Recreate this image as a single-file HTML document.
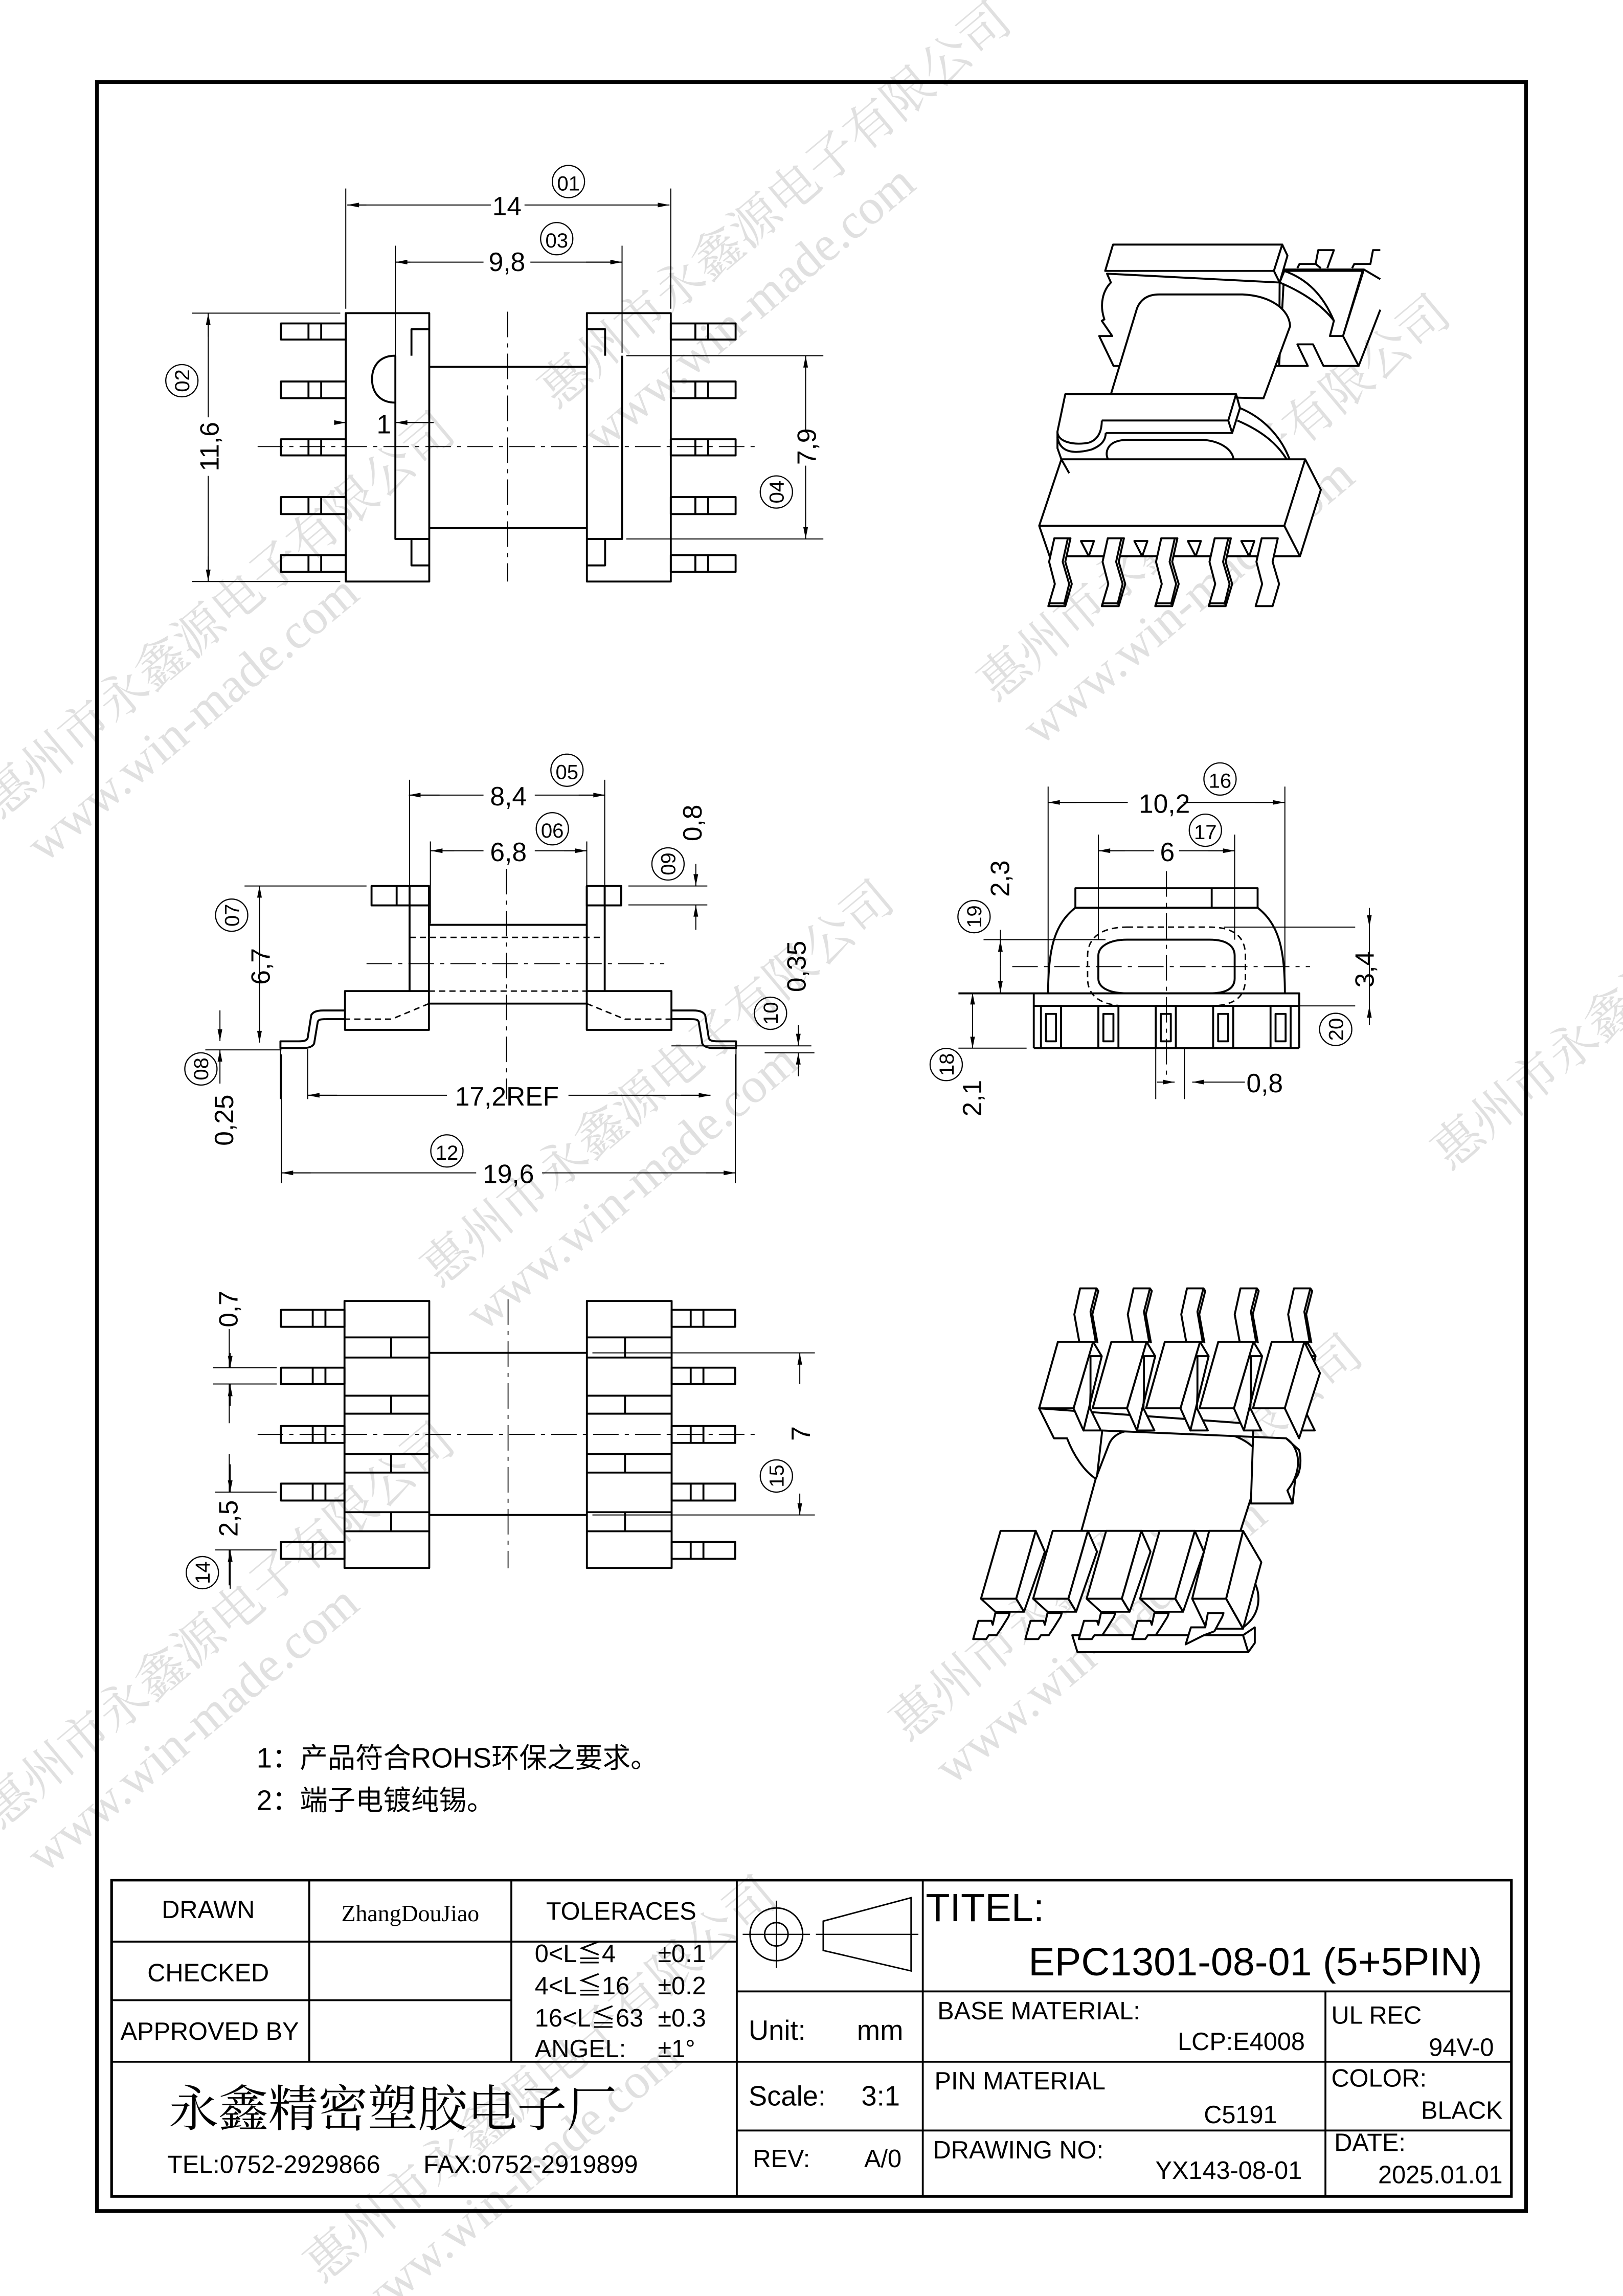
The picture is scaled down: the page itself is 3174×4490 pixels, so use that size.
<!DOCTYPE html>
<html><head><meta charset="utf-8"><style>
html,body{margin:0;padding:0;background:#fff}
svg{display:block}
text{font-family:"Liberation Sans","Noto Sans CJK SC",sans-serif;fill:#000}
.l{fill:none;stroke:#000;stroke-width:3.8;vector-effect:non-scaling-stroke;stroke-linejoin:round}
.t{fill:none;stroke:#000;stroke-width:2;vector-effect:non-scaling-stroke}
.c{fill:none;stroke:#000;stroke-width:1.8;vector-effect:non-scaling-stroke;stroke-dasharray:50 12 8 12}
.d{fill:none;stroke:#000;stroke-width:2.8;vector-effect:non-scaling-stroke;stroke-dasharray:12 8}
.w{fill:#fff;stroke:#000;stroke-width:3.8;vector-effect:non-scaling-stroke;stroke-linejoin:round}
.wm text{font-family:"Liberation Serif","Noto Serif CJK SC",serif;fill:#e0e0e0;font-size:34px}
.ci{fill:none;stroke:#000;stroke-width:0.8}
</style></head><body>
<svg width="3174" height="4490" viewBox="0 0 1108 1568" xmlns="http://www.w3.org/2000/svg">
<defs>
<marker id="a" viewBox="0 0 10 4" refX="10" refY="2" markerWidth="9" markerHeight="3.2" markerUnits="userSpaceOnUse" orient="auto-start-reverse"><path d="M0,0 L10,2 L0,4 Z" fill="#000"/></marker>
</defs>
<rect width="1108" height="1568" fill="#fff"/>
<g class="wm">
<text transform="translate(0,560) rotate(-40)">惠州市永鑫源电子有限公司</text>
<text transform="translate(30,590) rotate(-40)" font-size="28">www.win-made.com</text>
<text transform="translate(380,280) rotate(-40)">惠州市永鑫源电子有限公司</text>
<text transform="translate(410,310) rotate(-40)" font-size="28">www.win-made.com</text>
<text transform="translate(680,480) rotate(-40)">惠州市永鑫源电子有限公司</text>
<text transform="translate(710,510) rotate(-40)" font-size="28">www.win-made.com</text>
<text transform="translate(300,880) rotate(-40)">惠州市永鑫源电子有限公司</text>
<text transform="translate(330,910) rotate(-40)" font-size="28">www.win-made.com</text>
<text transform="translate(620,1190) rotate(-40)">惠州市永鑫源电子有限公司</text>
<text transform="translate(650,1220) rotate(-40)" font-size="28">www.win-made.com</text>
<text transform="translate(0,1250) rotate(-40)">惠州市永鑫源电子有限公司</text>
<text transform="translate(30,1280) rotate(-40)" font-size="28">www.win-made.com</text>
<text transform="translate(990,800) rotate(-40)">惠州市永鑫源电子有限公司</text>
<text transform="translate(220,1560) rotate(-40)">惠州市永鑫源电子有限公司</text>
<text transform="translate(250,1590) rotate(-40)" font-size="28">www.win-made.com</text>
</g>
<rect x="66" y="56" width="976" height="1454" fill="none" stroke="#000" stroke-width="2.6"/>

<g transform="translate(122.2,104.7) scale(0.2894,0.2003)">
<rect class="l" x="393" y="545" width="197" height="915"/>
<path class="l" d="M510,690 V1315 H590 M548,690 V600 H590 M548,1315 V1405 H590"/>
<path class="l" d="M510,690 C470,690 455,730 455,770 C455,810 470,850 510,850"/>
<rect class="l" x="962" y="545" width="198" height="915"/>
<path class="l" d="M1045,690 V1315 H962 M1005,690 V600 H962 M1005,1315 V1405 H962"/>
<path class="l" d="M590,728 H962 M590,1278 H962"/>
<g id="pl">
<rect class="l" x="240" y="580" width="153" height="55"/><path class="l" d="M305,580V635M335,580V635"/>
<rect class="l" x="240" y="778" width="153" height="57"/><path class="l" d="M305,778V835M335,778V835"/>
<rect class="l" x="240" y="975" width="153" height="55"/><path class="l" d="M305,975V1030M335,975V1030"/>
<rect class="l" x="240" y="1172" width="153" height="58"/><path class="l" d="M305,1172V1230M335,1172V1230"/>
<rect class="l" x="240" y="1370" width="153" height="57"/><path class="l" d="M305,1370V1427M335,1370V1427"/>
</g>
<use href="#pl" transform="translate(1553,0) scale(-1,1)"/>
<path class="c" d="M185,1000 H1365 M775,540 V1460"/>
<path class="t" d="M393,120 V530 M1160,120 V530 M510,315 V970 M1045,315 V680 M30,545 H380 M30,1460 H380 M1055,690 H1520 M1055,1315 H1520"/>
</g>
<g>
<path class="t" d="M237,140 H335 M358,140 H457" marker-end="url(#a)"/>
<path class="t" d="M237,140 H250" marker-start="url(#a)"/>
<path class="t" d="M270,179 H330 M362,179 H424.6" />
<path class="t" d="M270,179 H280" marker-start="url(#a)"/><path class="t" d="M400,179 H424.6" marker-end="url(#a)"/>
<path class="t" d="M142,214 V285 M142,325 V397"/>
<path class="t" d="M142,230 V214" marker-end="url(#a)"/><path class="t" d="M142,380 V397" marker-end="url(#a)"/>
<path class="t" d="M550,243 V295 M550,318 V368"/>
<path class="t" d="M550,260 V243" marker-end="url(#a)"/><path class="t" d="M550,350 V368" marker-end="url(#a)"/>
<path class="t" d="M228,288.6 H236" marker-end="url(#a)"/><path class="t" d="M296,288.6 H270" marker-end="url(#a)"/>
<text x="346" y="147" font-size="18" text-anchor="middle">14</text>
<text x="346" y="185" font-size="18" text-anchor="middle">9,8</text>
<text x="262" y="296" font-size="18" text-anchor="middle">1</text>
<text transform="translate(149,305) rotate(-90)" font-size="18" text-anchor="middle">11,6</text>
<text transform="translate(557,305) rotate(-90)" font-size="18" text-anchor="middle">7,9</text>
<circle class="ci" cx="388" cy="124" r="11"/><text x="388" y="130" font-size="14" text-anchor="middle">01</text>
<circle class="ci" cx="380" cy="163" r="11"/><text x="380" y="169" font-size="14" text-anchor="middle">03</text>
<circle class="ci" cx="124" cy="260" r="11"/><text transform="translate(129,260) rotate(-90)" font-size="14" text-anchor="middle">02</text>
<circle class="ci" cx="530" cy="336" r="11"/><text transform="translate(535,336) rotate(-90)" font-size="14" text-anchor="middle">04</text>
</g>

<g transform="translate(663.2,139.6) scale(0.1781,0.1892)">
<path class="w" d="M1200,235 L1505,235 L1425,475 L1485,583 L1350,583 L1310,505 L1250,505 L1290,583 L1180,583 Z"/>
<path class="l" d="M1505,235 L1568,270 M1485,583 L1568,380 M1250,230 L1258,215 L1320,215 L1330,165 L1390,165 L1365,230 M1320,215 L1340,230 M1460,230 L1468,215 L1530,215 L1540,165 L1568,165"/>
<path class="w" d="M1182,282 C1280,320 1350,370 1390,420 L1375,475 L1425,475 L1500,240 L1200,240 Z"/>
<path class="l" d="M1200,240 C1290,270 1350,330 1390,420"/>
<path class="w" d="M520,250 L535,282 C505,310 490,360 510,415 L500,420 L540,475 L490,475 L545,583 L1180,583 L1182,282 Z"/>
<path class="w" d="M513,240 L543,145 L1192,145 L1160,240 Z"/>
<path class="w" d="M1160,240 L1192,145 L1212,185 L1182,282 Z"/>
<path class="w" d="M535,685 L635,375 C650,340 680,325 720,325 L1040,325 C1150,330 1220,380 1222,440 L1120,700 Z"/>
<path class="w" d="M345,920 L330,880 L330,820 L360,685 L1015,685 L1030,735 C1120,770 1190,840 1222,925 L1215,970 L375,970 Z"/>
<path class="l" d="M360,685 L1015,685 L985,780 L500,780 M985,780 L1000,825 L515,825 M1015,685 L1030,735 L1000,825 M330,820 C330,860 400,870 450,860 C485,850 500,820 500,780 M330,840 C340,900 400,900 460,885 C500,870 515,850 515,825 M1020,780 C1120,820 1180,870 1215,930"/>
<path class="l" d="M650,970 C560,970 510,930 520,890 C530,855 570,850 600,850 L890,850 C960,855 1010,890 1005,930 C1000,960 970,970 940,970"/>
<path class="w" d="M260,1160 L345,920 L1225,920 L1280,920 L1340,1030 L1260,1270 L300,1270 Z"/>
<path class="l" d="M260,1160 L1200,1160 L1280,920 M1200,1160 L1260,1270 M345,920 L375,970"/>
<g id="ip1"><path class="w" d="M420,1215 L470,1215 L450,1270 Z"/><path class="w" d="M318,1205 L380,1205 L360,1290 L385,1370 L360,1450 L295,1450 L320,1370 L298,1290 Z"/><path class="l" d="M370,1205 L350,1290 L375,1370 L355,1445 M295,1450 L300,1440 L360,1440"/></g>
<use href="#ip1" transform="translate(205,0)"/><use href="#ip1" transform="translate(410,0)"/><use href="#ip1" transform="translate(615,0)"/>
<path class="w" d="M1113,1205 L1175,1205 L1155,1290 L1180,1370 L1155,1450 L1090,1450 L1115,1370 L1093,1290 Z"/>
</g>

<g transform="translate(157,506) scale(0.49,0.156)">
<rect class="l" x="160" y="1095" width="117" height="170"/>
<rect class="l" x="497" y="1095" width="118" height="170"/>
<path class="l" d="M250,1095 V635 M277,1095 V635 M522,1095 V635 M497,1095 V635"/>
<rect class="l" x="197" y="635" width="80" height="85"/><path class="l" d="M232,635V720"/>
<rect class="l" x="497" y="635" width="48" height="85"/><path class="l" d="M522,635V720"/>
<path class="l" d="M277,805 H497 M277,1150 H497"/>
<path class="d" d="M250,860 H522 M277,1095 H497 M277,1150 L225,1218 H160 M497,1150 L550,1218 H615"/>
<path class="l" d="M160,1180 H130 C118,1180 115,1190 113,1200 L108,1300 C107,1312 103,1315 95,1315 H70 V1345 H100 C110,1345 115,1338 117,1325 L122,1230 C123,1220 125,1218 135,1218 H160"/>
<path class="l" d="M615,1180 H645 C657,1180 660,1190 662,1200 L667,1300 C668,1312 672,1315 680,1315 H705 V1345 H675 C665,1345 660,1338 658,1325 L653,1230 C652,1220 650,1218 640,1218 H615"/>
<path class="c" d="M190,975 H605 M385,560 V1568"/>
<path class="t" d="M250,170 V630 M522,170 V630 M279,440 V800 M497,440 V800 M20,635 H190 M555,635 H665 M555,718 H665 M615,1335 H810 M70,1350 V1568 M108,1350 V1568 M705,1350 V1568"/>
</g>
<g>
<path class="t" d="M279,543 H330 M365,543 H413"/>
<path class="t" d="M300,543 H279" marker-end="url(#a)"/><path class="t" d="M395,543 H413" marker-end="url(#a)"/>
<path class="t" d="M294,581 H330 M365,581 H400.5"/>
<path class="t" d="M310,581 H294" marker-end="url(#a)"/><path class="t" d="M385,581 H400.5" marker-end="url(#a)"/>
<text x="347" y="550" font-size="18" text-anchor="middle">8,4</text>
<text x="347" y="588" font-size="18" text-anchor="middle">6,8</text>
<circle class="ci" cx="387" cy="526" r="11"/><text x="387" y="532" font-size="14" text-anchor="middle">05</text>
<circle class="ci" cx="377" cy="566" r="11"/><text x="377" y="572" font-size="14" text-anchor="middle">06</text>
<path class="t" d="M475,590 V605" marker-end="url(#a)"/><path class="t" d="M475,635 V618" marker-end="url(#a)"/>
<circle class="ci" cx="456" cy="590" r="11"/><text transform="translate(461,590) rotate(-90)" font-size="14" text-anchor="middle">09</text>
<text transform="translate(479,562) rotate(-90)" font-size="18" text-anchor="middle">0,8</text>
<path class="t" d="M545,700 V714" marker-end="url(#a)"/><path class="t" d="M545,735 V719" marker-end="url(#a)"/>
<path class="t" d="M522,719 H556"/>
<circle class="ci" cx="526" cy="692" r="11"/><text transform="translate(531,692) rotate(-90)" font-size="14" text-anchor="middle">10</text>
<text transform="translate(550,660) rotate(-90)" font-size="18" text-anchor="middle">0,35</text>
<path class="t" d="M177,640 V605" marker-end="url(#a)"/><path class="t" d="M177,685 V712" marker-end="url(#a)"/>
<path class="t" d="M177,640 V685"/>
<text transform="translate(184,660) rotate(-90)" font-size="18" text-anchor="middle">6,7</text>
<circle class="ci" cx="158" cy="625" r="11"/><text transform="translate(163,625) rotate(-90)" font-size="14" text-anchor="middle">07</text>
<path class="t" d="M150,690 V711" marker-end="url(#a)"/><path class="t" d="M150,740 V717" marker-end="url(#a)"/>
<path class="t" d="M140,717 H192"/>
<circle class="ci" cx="137" cy="730" r="11"/><text transform="translate(142,730) rotate(-90)" font-size="14" text-anchor="middle">08</text>
<text transform="translate(159,765) rotate(-90)" font-size="18" text-anchor="middle">0,25</text>
<path class="t" d="M210,748 H305 M388,748 H485"/>
<path class="t" d="M230,748 H210" marker-end="url(#a)"/><path class="t" d="M465,748 H485" marker-end="url(#a)"/>
<text x="346" y="755" font-size="18" text-anchor="middle">17,2REF</text>
<path class="t" d="M192,801 H325 M370,801 H502"/>
<path class="t" d="M212,801 H192" marker-end="url(#a)"/><path class="t" d="M482,801 H502" marker-end="url(#a)"/>
<path class="t" d="M192,720 V808 M502,720 V808"/>
<text x="347" y="808" font-size="18" text-anchor="middle">19,6</text>
<circle class="ci" cx="305" cy="786" r="11"/><text x="305" y="792" font-size="14" text-anchor="middle">12</text>
</g>

<g transform="translate(157,506) scale(0.49,0.156)">
<rect class="l" x="1178" y="645" width="254" height="85"/><path class="l" d="M1368,645V730"/>
<path class="l" d="M1178,730 C1150,800 1140,900 1140,1105 M1432,730 C1460,800 1470,900 1470,1105 M1178,730 H1432"/>
<path class="l" d="M1250,870 H1365 C1390,870 1400,900 1400,940 V1040 C1400,1080 1390,1105 1365,1105 H1250 C1225,1105 1210,1080 1210,1040 V940 C1210,900 1225,870 1250,870 Z"/>
<path class="d" d="M1250,815 H1365 C1400,815 1415,860 1415,940 V1040 C1415,1120 1400,1160 1365,1160 H1250 C1215,1160 1195,1120 1195,1040 V940 C1195,860 1215,815 1250,815 Z"/>
<path class="l" d="M1015,1105 H1490 V1160 M1120,1105 V1345 M1490,1160 V1345 M1120,1160 H1490"/>
<g id="p3"><rect class="l" x="1130" y="1160" width="28" height="185"/><rect class="l" x="1137" y="1195" width="14" height="120"/></g>
<use href="#p3" transform="translate(80,0)"/><use href="#p3" transform="translate(160,0)"/><use href="#p3" transform="translate(240,0)"/><use href="#p3" transform="translate(320,0)"/>
<path class="l" d="M1120,1345 H1130 M1158,1345 H1210 M1238,1345 H1290 M1318,1345 H1370 M1398,1345 H1450 M1478,1345 H1490"/>
<path class="c" d="M1090,988 H1505 M1305,570 V1500"/>
<path class="t" d="M1140,200 V1105 M1470,200 V1105 M1210,410 V870 M1400,410 V870 M1050,870 H1220 M1385,815 H1568 M1490,1160 H1568 M1015,1345 H1110 M1290,1345 V1568 M1330,1345 V1568"/>
</g>
<g>
<path class="t" d="M715.6,548 H770 M808,548 H877"/>
<path class="t" d="M735,548 H715.6" marker-end="url(#a)"/><path class="t" d="M857,548 H877" marker-end="url(#a)"/>
<text x="795" y="555" font-size="18" text-anchor="middle">10,2</text>
<circle class="ci" cx="833" cy="532" r="11"/><text x="833" y="538" font-size="14" text-anchor="middle">16</text>
<path class="t" d="M750,581 H788 M805,581 H843"/>
<path class="t" d="M768,581 H750" marker-end="url(#a)"/><path class="t" d="M825,581 H843" marker-end="url(#a)"/>
<text x="797" y="588" font-size="18" text-anchor="middle">6</text>
<circle class="ci" cx="823" cy="567" r="11"/><text x="823" y="573" font-size="14" text-anchor="middle">17</text>
<path class="t" d="M683,635 V642" /><path class="t" d="M683,660 V678" marker-end="url(#a)"/><path class="t" d="M683,660 V642" marker-end="url(#a)"/>
<circle class="ci" cx="665" cy="626" r="11"/><text transform="translate(670,626) rotate(-90)" font-size="14" text-anchor="middle">19</text>
<text transform="translate(689,600) rotate(-90)" font-size="18" text-anchor="middle">2,3</text>
<path class="t" d="M935,620 V633" marker-end="url(#a)"/><path class="t" d="M935,700 V687" marker-end="url(#a)"/><path class="t" d="M935,633 V687"/>
<text transform="translate(938,662) rotate(-90)" font-size="18" text-anchor="middle">3,4</text>
<circle class="ci" cx="912" cy="703" r="11"/><text transform="translate(917,703) rotate(-90)" font-size="14" text-anchor="middle">20</text>
<path class="t" d="M664,700 V678" marker-end="url(#a)"/><path class="t" d="M664,700 V716" marker-end="url(#a)"/>
<circle class="ci" cx="646" cy="727" r="11"/><text transform="translate(651,727) rotate(-90)" font-size="14" text-anchor="middle">18</text>
<text transform="translate(670,750) rotate(-90)" font-size="18" text-anchor="middle">2,1</text>
<path class="t" d="M790,739 H802" marker-end="url(#a)"/><path class="t" d="M850,739 H814" marker-end="url(#a)"/>
<text x="851" y="746" font-size="18">0,8</text>
</g>

<g transform="translate(122.2,865.6) scale(0.2894,0.1447)">
<g id="b4"><rect class="l" x="390" y="158" width="200" height="1260"/>
<path class="l" d="M390,330H590M390,425H590M500,330V425M390,605H590M390,690H590M500,605V690M390,880H590M390,968H590M500,880V968M390,1155H590M390,1245H590M500,1155V1245"/>
<rect class="l" x="240" y="200" width="150" height="80"/><path class="l" d="M315,200V280M345,200V280"/>
<rect class="l" x="240" y="473" width="150" height="77"/><path class="l" d="M315,473V550M345,473V550"/>
<rect class="l" x="240" y="748" width="150" height="80"/><path class="l" d="M315,748V828M345,748V828"/>
<rect class="l" x="240" y="1020" width="150" height="80"/><path class="l" d="M315,1020V1100M345,1020V1100"/>
<rect class="l" x="240" y="1295" width="150" height="80"/><path class="l" d="M315,1295V1375M345,1295V1375"/></g>
<use href="#b4" transform="translate(1552,0) scale(-1,1)"/>
<path class="l" d="M590,403H962M590,1168H962"/>
<path class="c" d="M185,788H1365M776,150V1420"/>
<path class="t" d="M80,473H230M80,550H230M85,1060H230M85,1333H230M975,403H1500M975,1168H1500M118,880V1060M118,290V473M118,550V735M118,1333V1500"/>
</g>
<g>
<path class="t" d="M157,924 V934" marker-end="url(#a)"/><path class="t" d="M157,960 V945.5" marker-end="url(#a)"/>
<text transform="translate(162,894) rotate(-90)" font-size="18" text-anchor="middle">0,7</text>
<path class="t" d="M157,1000 V1019" marker-end="url(#a)"/><path class="t" d="M157,1085 V1058.5" marker-end="url(#a)"/>
<text transform="translate(162,1037) rotate(-90)" font-size="18" text-anchor="middle">2,5</text>
<circle class="ci" cx="138" cy="1074" r="11"/><text transform="translate(143,1074) rotate(-90)" font-size="14" text-anchor="middle">14</text>
<path class="t" d="M546,945 V924" marker-end="url(#a)"/><path class="t" d="M546,1020 V1034.6" marker-end="url(#a)"/>
<text transform="translate(553,979) rotate(-90)" font-size="18" text-anchor="middle">7</text>
<circle class="ci" cx="530" cy="1008" r="11"/><text transform="translate(535,1008) rotate(-90)" font-size="14" text-anchor="middle">15</text>
</g>

<g transform="translate(645.7,865.6) scale(0.1781,0.1781)">
<path class="w" d="M575,810 L625,680 C640,640 680,625 720,625 L1010,625 C1150,640 1210,700 1210,760 L1130,1010 L520,1010 Z"/>
<path class="w" d="M358,540 L415,655 L465,655 C490,720 530,780 575,810 L580,800 L600,625 L1305,655 L1355,700 C1365,740 1360,790 1340,810 L1330,905 L1170,905 L1180,600 Z"/>
<path class="l" d="M1305,655 C1360,690 1370,780 1310,855 L1330,905"/>
<g id="tb"><path class="w" d="M515,80 L578,80 L555,170 L575,285 L512,285 L493,180 Z"/><path class="l" d="M578,80 L585,90 L562,180 L582,290"/>
<path class="w" d="M490,540 L565,285 L598,340 L528,625 Z"/><path class="w" d="M555,340 L598,340 L528,625 L595,625 L553,540 L555,480 Z"/>
<path class="w" d="M358,540 L430,285 L565,285 L490,540 Z"/></g>
<use href="#tb" transform="translate(205,0)"/><use href="#tb" transform="translate(410,0)"/><use href="#tb" transform="translate(615,0)"/><use href="#tb" transform="translate(820,0)"/>
<path class="w" d="M1300,540 L1375,285 L1435,405 L1355,655 Z"/>
<path class="w" d="M485,1410 L1140,1410 L1160,1475 L505,1475 Z"/><path class="w" d="M1140,1410 L1185,1380 L1185,1440 L1160,1475 Z"/>
<path class="l" d="M1180,1200 C1210,1250 1210,1330 1140,1380"/>
<g id="bb"><path class="w" d="M270,1270 L345,1010 L380,1090 L300,1320 Z"/><path class="w" d="M135,1270 L210,1010 L345,1010 L270,1270 Z"/>
<path class="l" d="M135,1270 L270,1270 L300,1320 L190,1320 L135,1270"/>
<path class="w" d="M190,1325 L245,1325 L240,1340 L215,1380 L195,1410 L165,1410 L155,1425 L105,1425 L125,1355 L175,1355 L180,1370 Z"/></g>
<use href="#bb" transform="translate(200,0)"/><use href="#bb" transform="translate(405,0)"/><use href="#bb" transform="translate(610,0)"/>
<path class="w" d="M1075,1270 L1140,1010 L1210,1130 L1140,1385 Z"/>
<path class="w" d="M945,1270 L1010,1010 L1140,1010 L1075,1270 Z"/>
<path class="l" d="M945,1270 L1075,1270 L1140,1385 L1000,1385 L945,1270"/>
<path class="w" d="M1005,1325 L1065,1325 L1060,1340 L1030,1395 L990,1410 L930,1440 L920,1445 L940,1380 L995,1380 Z"/>
</g>

<text x="175" y="1207" font-size="19">1：产品符合ROHS环保之要求。</text>
<text x="175" y="1236" font-size="19">2：端子电镀纯锡。</text>

<g fill="none" stroke="#000">
<rect x="76" y="1284" width="956" height="216" stroke-width="1.8"/>
<path stroke-width="1.3" d="M76,1326H503M76,1366H349M76,1408H503M211,1284V1408M349,1284V1408M503,1284V1500M630,1284V1500M503,1360H1032M503,1408H1032M503,1455H1032M905,1360V1500"/>
<circle cx="530" cy="1321" r="18" stroke-width="1"/><circle cx="530" cy="1321" r="8" stroke-width="1"/>
<path stroke-width="0.8" d="M507,1321H553M530,1298V1344M557,1321H627"/>
<path stroke-width="1" d="M562,1312L622,1296V1346L562,1332Z"/>
</g>
<g font-size="17">
<text x="142" y="1310" text-anchor="middle">DRAWN</text>
<text x="280" y="1312" text-anchor="middle" style="font-family:'Liberation Serif',serif;font-size:16px">ZhangDouJiao</text>
<text x="424" y="1311" text-anchor="middle">TOLERACES</text>
<text x="142" y="1353" text-anchor="middle">CHECKED</text>
<text x="143" y="1393" text-anchor="middle">APPROVED BY</text>
<text x="365" y="1340">0&lt;L≦4</text><text x="449" y="1340">±0.1</text>
<text x="365" y="1362">4&lt;L≦16</text><text x="449" y="1362">±0.2</text>
<text x="365" y="1384">16&lt;L≦63</text><text x="449" y="1384">±0.3</text>
<text x="365" y="1405">ANGEL:</text><text x="449" y="1405">±1°</text>
<text x="511" y="1393" font-size="19">Unit:</text><text x="585" y="1393" font-size="19">mm</text>
<text x="511" y="1438" font-size="19">Scale:</text><text x="588" y="1438" font-size="19">3:1</text>
<text x="514" y="1480">REV:</text><text x="590" y="1480">A/0</text>
<text x="640" y="1379">BASE MATERIAL:</text><text x="891" y="1400" text-anchor="end">LCP:E4008</text>
<text x="909" y="1382">UL REC</text><text x="1020" y="1404" text-anchor="end">94V-0</text>
<text x="638" y="1427">PIN MATERIAL</text><text x="872" y="1450" text-anchor="end">C5191</text>
<text x="909" y="1425">COLOR:</text><text x="1026" y="1447" text-anchor="end">BLACK</text>
<text x="637" y="1474">DRAWING NO:</text><text x="889" y="1488" text-anchor="end">YX143-08-01</text>
<text x="911" y="1469">DATE:</text><text x="1026" y="1491" text-anchor="end">2025.01.01</text>
<text x="114" y="1484">TEL:0752-2929866</text><text x="289" y="1484">FAX:0752-2919899</text>
</g>
<text x="632" y="1312" font-size="27">TITEL:</text>
<text x="1012" y="1349" font-size="27" text-anchor="end">EPC1301-08-01 (5+5PIN)</text>
<text x="115" y="1452" style="font-family:'Noto Serif CJK SC',serif;font-size:34px">永鑫精密塑胶电子厂</text>
</svg>
</body></html>
